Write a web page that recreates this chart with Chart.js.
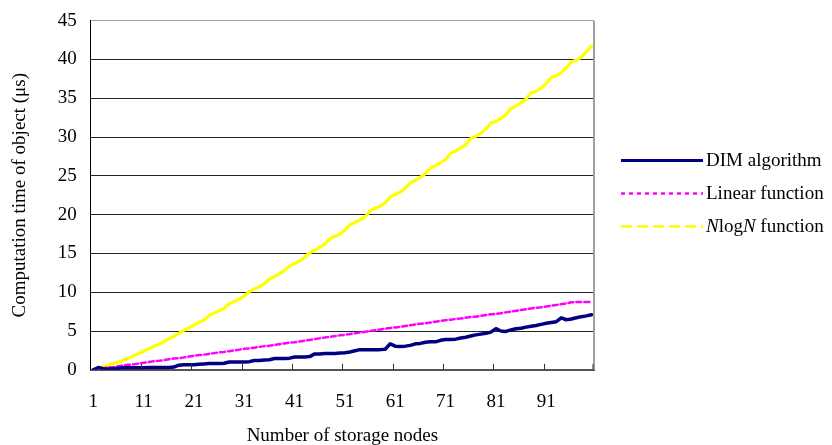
<!DOCTYPE html>
<html>
<head>
<meta charset="utf-8">
<title>Computation time of object</title>
<script src="https://cdn.jsdelivr.net/npm/chart.js@4.4.0/dist/chart.umd.min.js"></script>
<style>
  body { margin: 0; background: #fff; }
  #wrap { position: relative; width: 832px; height: 445px; }
</style>
</head>
<body>
<div id="wrap"><canvas id="grafico"></canvas></div>
<script>
// number of storage nodes (categories)
var nodes = [1,2,3,4,5,6,7,8,9,10,
  11,12,13,14,15,16,17,18,19,20,
  21,22,23,24,25,26,27,28,29,30,
  31,32,33,34,35,36,37,38,39,40,
  41,42,43,44,45,46,47,48,49,50,
  51,52,53,54,55,56,57,58,59,60,
  61,62,63,64,65,66,67,68,69,70,
  71,72,73,74,75,76,77,78,79,80,
  81,82,83,84,85,86,87,88,89,90,
  91,92,93,94,95,96,97,98,99,100];

// computation time (us)
var dimAlgorithm = [0,0.3,0.15,0.1,0.15,0.2,0.25,0.25,0.25,0.25,
  0.25,0.3,0.3,0.3,0.3,0.3,0.35,0.6,0.65,0.65,
  0.65,0.7,0.75,0.8,0.8,0.8,0.85,1.0,1.0,1.0,
  1.0,1.05,1.2,1.2,1.25,1.3,1.45,1.45,1.45,1.5,
  1.65,1.65,1.65,1.7,2.05,2.05,2.1,2.1,2.1,2.15,
  2.2,2.3,2.45,2.6,2.6,2.6,2.6,2.6,2.65,3.35,
  3.05,3.0,3.05,3.15,3.35,3.4,3.55,3.6,3.6,3.8,
  3.9,3.9,3.95,4.1,4.2,4.35,4.5,4.6,4.7,4.85,
  5.3,5.0,4.95,5.15,5.3,5.35,5.5,5.6,5.7,5.85,
  6.0,6.1,6.2,6.7,6.45,6.55,6.7,6.85,6.95,7.1];

var linearFunction = [0,0.1,0.2,0.3,0.35,0.45,0.55,0.65,0.7,0.8,
  0.9,1.0,1.1,1.15,1.25,1.35,1.45,1.5,1.6,1.7,
  1.8,1.9,1.95,2.05,2.15,2.25,2.3,2.4,2.5,2.6,
  2.7,2.75,2.85,2.95,3.05,3.1,3.2,3.3,3.4,3.5,
  3.55,3.65,3.75,3.85,3.95,4.05,4.15,4.25,4.35,4.45,
  4.5,4.6,4.7,4.8,4.9,5.0,5.1,5.2,5.3,5.4,
  5.45,5.55,5.65,5.75,5.85,5.95,6.0,6.1,6.2,6.3,
  6.4,6.45,6.55,6.6,6.7,6.8,6.85,6.95,7.05,7.15,
  7.2,7.3,7.4,7.5,7.6,7.7,7.8,7.9,8.0,8.05,
  8.15,8.25,8.35,8.45,8.55,8.7,8.75,8.75,8.75,8.75];

var nlognFunction = [0,0.2,0.4,0.6,0.8,1.0,1.2,1.5,1.8,2.1,
  2.4,2.7,3.0,3.3,3.6,4.0,4.3,4.7,5.1,5.4,
  5.8,6.1,6.4,7.0,7.3,7.6,7.9,8.5,8.8,9.1,
  9.5,10.1,10.4,10.7,11.1,11.7,12.0,12.4,12.8,13.4,
  13.7,14.0,14.5,15.1,15.4,15.8,16.2,16.9,17.2,17.5,
  18.0,18.7,19.0,19.3,19.7,20.5,20.8,21.1,21.5,22.3,
  22.6,22.9,23.4,24.1,24.4,24.8,25.3,26.0,26.3,26.7,
  27.1,27.9,28.2,28.6,29.0,29.8,30.1,30.5,31.0,31.8,
  32.0,32.4,32.9,33.7,34.0,34.4,34.9,35.7,35.9,36.3,
  36.9,37.7,37.9,38.3,38.9,39.7,39.9,40.3,41.0,41.7];

var yMax = 45;
var yStep = 5;
var xLabelEvery = 10;

var serif = "'Liberation Serif', 'Times New Roman', serif";
Chart.defaults.font.family = serif;
Chart.defaults.color = '#000';

// inward tick marks on the category axis + grey frame on the right
var marcoPlugin = {
  id: 'marco',
  afterDatasetsDraw: function(chart) {
    var ctx = chart.ctx, a = chart.chartArea, xs = chart.scales.x;
    ctx.save();
    ctx.strokeStyle = '#a0a0a0';
    ctx.lineWidth = 2;
    ctx.beginPath();
    ctx.moveTo(a.right, a.top);
    ctx.lineTo(a.right, a.bottom);
    ctx.stroke();

    ctx.strokeStyle = '#333';
    ctx.lineWidth = 1;
    ctx.beginPath();
    for (var k = xLabelEvery; k <= nodes.length; k += xLabelEvery) {
      var x;
      if (k >= nodes.length) x = a.right - 1;
      else x = Math.round((xs.getPixelForValue(k - 1) + xs.getPixelForValue(k)) / 2) + 0.5;
      ctx.moveTo(x, a.bottom - 6);
      ctx.lineTo(x, a.bottom);
    }
    ctx.stroke();
    ctx.restore();
  }
};

// legend on the right, with italic N in the last entry
var leyendaPlugin = {
  id: 'leyenda',
  afterDraw: function(chart) {
    var ctx = chart.ctx;
    var items = [
      { color: '#000080', width: 3, dash: [], parts: [['DIM algorithm', false]] },
      { color: '#ff00ff', width: 2.5, dash: [4, 4], parts: [['Linear function', false]] },
      { color: '#ffff00', width: 2.5, dash: [11, 5], parts: [['N', true], ['log', false], ['N', true], [' function', false]] }
    ];
    var x0 = chart.chartArea.right + 27;
    ctx.save();
    items.forEach(function(it, i) {
      var y = 160.5 + i * 33;
      ctx.strokeStyle = it.color;
      ctx.lineWidth = it.width;
      ctx.setLineDash(it.dash);
      ctx.beginPath();
      ctx.moveTo(x0, y);
      ctx.lineTo(x0 + 82, y);
      ctx.stroke();
      ctx.setLineDash([]);
      var tx = x0 + 85;
      ctx.fillStyle = '#000';
      ctx.textBaseline = 'alphabetic';
      it.parts.forEach(function(p) {
        ctx.font = (p[1] ? 'italic ' : '') + '19px ' + serif;
        ctx.fillText(p[0], tx, y + 5.5);
        tx += ctx.measureText(p[0]).width;
      });
    });
    ctx.restore();
  }
};

var datos = {
  labels: nodes,
  datasets: [{
    label: 'DIM algorithm',
    data: dimAlgorithm,
    borderColor: '#000080',
    borderWidth: 3.5
  }, {
    label: 'Linear function',
    data: linearFunction,
    borderColor: '#ff00ff',
    borderWidth: 2.5,
    borderDash: [5, 3]
  }, {
    label: 'NlogN function',
    data: nlognFunction,
    borderColor: '#ffff00',
    borderWidth: 3.2
  }]
};

var config = {
  type: 'line',
  data: datos,
  options: {
    responsive: true,
    maintainAspectRatio: false,
    animation: false,
    layout: { padding: { left: 9, right: 238, top: 16, bottom: 0 } },
    elements: {
      point: { radius: 0 },
      line: { tension: 0, borderJoinStyle: 'round', borderCapStyle: 'round' }
    },
    plugins: {
      legend: { display: false },
      tooltip: { enabled: false }
    },
    scales: {
      x: {
        offset: true,
        grid: { display: false, drawTicks: false },
        border: { display: true, color: '#555', width: 2 },
        ticks: {
          autoSkip: false,
          maxRotation: 0,
          padding: 21,
          font: { size: 19 },
          callback: function(v, i) { return i % xLabelEvery === 0 ? this.getLabelForValue(v) : ''; }
        },
        title: {
          display: true,
          text: 'Number of storage nodes',
          font: { size: 19, lineHeight: 0.1 },
          padding: { top: 0, bottom: 8.5 }
        }
      },
      y: {
        min: 0,
        max: yMax,
        ticks: { stepSize: yStep, padding: 14, font: { size: 19, lineHeight: 0.7 } },
        grid: {
          drawTicks: false,
          lineWidth: 1,
          color: function(c) { return c.tick && c.tick.value === yMax ? '#a0a0a0' : '#222'; }
        },
        border: { color: '#000', width: 1 },
        title: {
          display: true,
          text: 'Computation time of object (\u03bcs)',
          font: { size: 19 },
          padding: { top: 0, bottom: 12 }
        }
      }
    }
  },
  plugins: [marcoPlugin, leyendaPlugin]
};

var myChart = new Chart(document.getElementById('grafico'), config);
</script>
</body>
</html>
